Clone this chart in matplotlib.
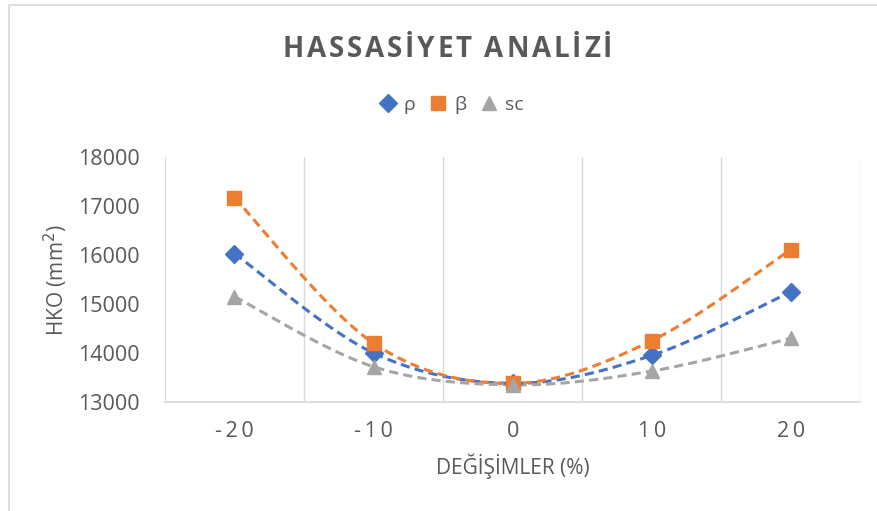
import matplotlib.pyplot as plt
from matplotlib.patches import Rectangle
import numpy as np

# degisim yuzdeleri ve HKO degerleri
degisim = [-20, -10, 0, 10, 20]
rho = [16030, 14000, 13380, 13950, 15250]
beta = [17170, 14200, 13380, 14250, 16110]
sc = [15150, 13720, 13350, 13630, 14300]

seri_adlari = ['ρ', 'β', 'sc']
x_etiketler = ['-20', '-10', '0', '10', '20']
y_ticks = [13000, 14000, 15000, 16000, 17000, 18000]
baslik = 'HASSASİYET ANALİZİ'

plt.rcParams['font.family'] = ['Open Sans', 'DejaVu Sans']
gri = '#595959'


# Excel tarzi yumusatilmis cizgi (Bezier, Catmull-Rom kontrol noktalari)
def yumusat(x, y, n=40):
    p = np.column_stack([x, y]).astype(float)
    p = np.vstack([p[0], p, p[-1]])
    out = []
    for i in range(1, len(p) - 2):
        p0, p1, p2, p3 = p[i - 1], p[i], p[i + 1], p[i + 2]
        c1 = p1 + (p2 - p0) / 6
        c2 = p2 - (p3 - p1) / 6
        t = np.linspace(0, 1, n)[:, None]
        b = ((1 - t) ** 3) * p1 + 3 * ((1 - t) ** 2) * t * c1 + 3 * (1 - t) * t ** 2 * c2 + t ** 3 * p2
        out.append(b)
    out = np.vstack(out)
    return out[:, 0], out[:, 1]


# harf aralikli yazi (piksel cinsinden)
def aralikli_yazi(fig, xc, yc, s, aralik, **kw):
    r = fig.canvas.get_renderer()
    W, H = fig.bbox.width, fig.bbox.height
    parcalar = []
    for ch in s:
        t = fig.text(0, yc / H, ch, ha='left', va='center', **kw)
        if ch == ' ':
            w = kw.get('fontsize', 12) * 100 / 72 * 0.26
        else:
            w = t.get_window_extent(renderer=r).width
        parcalar.append((t, w))
    toplam = sum(w for _, w in parcalar) + aralik * (len(parcalar) - 1)
    x = xc - toplam / 2
    for t, w in parcalar:
        t.set_x(x / W)
        x += w + aralik


fig = plt.figure(figsize=(8.77, 5.11), dpi=100)
ax = fig.add_axes([0.188, 0.2133, 0.793, 0.4795])

# dis cerceve
fig.patches.append(Rectangle((9 / 877, -0.1), 1.2, 1.1 - 5 / 511, transform=fig.transFigure,
                             fill=False, edgecolor='#d9d9d9', linewidth=1.2))

seriler = [(rho, '#4472C4', 'D', 9), (beta, '#ED7D31', 's', 10), (sc, '#A5A5A5', '^', 10)]
for (vals, renk, mk, ms), ad in zip(seriler, seri_adlari):
    xs, ys = yumusat(degisim, vals)
    ax.plot(xs, ys, color=renk, linestyle=(0, (3, 1.7)), linewidth=2.2, zorder=2)
    ax.plot(degisim, vals, linestyle='none', marker=mk, markersize=ms, color=renk, label=ad, zorder=3)

ax.set_xlim(-25, 25)
ax.set_ylim(13000, 18000)
ax.set_xticks(degisim)
ax.set_xticklabels(['\u2009'.join(s) for s in x_etiketler])
ax.set_yticks(y_ticks)
for gx in [-15, -5, 5, 15, 25]:
    ax.axvline(gx, color='#d9d9d9', linewidth=1, zorder=1)

for s in ['top', 'right']:
    ax.spines[s].set_visible(False)
ax.spines['left'].set_color('#d9d9d9')
ax.spines['bottom'].set_color('#d9d9d9')
ax.spines['bottom'].set_linewidth(1.2)
ax.tick_params(axis='both', length=0, labelsize=15.5, labelcolor=gri)
ax.tick_params(axis='y', pad=18)
ax.tick_params(axis='x', pad=14)

ax.set_xlabel('DEĞİŞİMLER (%)', fontsize=15, color=gri, labelpad=8)
fig.text(56 / 877, 1 - 280 / 511, 'HKO (mm$^2$)', rotation=90, ha='center', va='center',
         fontsize=15, color=gri)

aralikli_yazi(fig, 447.5, 511 - 49, baslik, 2.8, fontsize=20, fontweight='bold', color=gri)

fig.legend(loc='center', bbox_to_anchor=(0.514, 1 - 105 / 511), ncol=3, frameon=False,
           fontsize=14, labelcolor=gri, handletextpad=0.3, columnspacing=0.7,
           handlelength=1.0, borderaxespad=0, markerscale=1.0)

fig.savefig('out.png', dpi=100)
